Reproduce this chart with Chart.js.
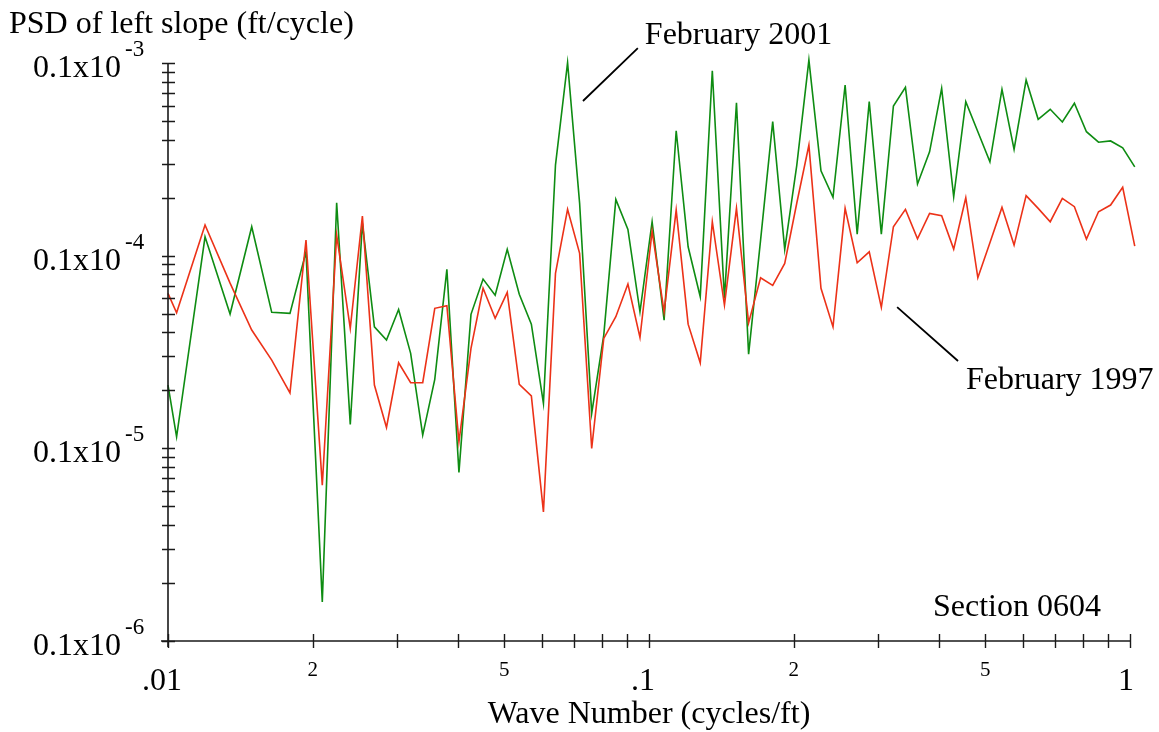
<!DOCTYPE html>
<html>
<head>
<meta charset="utf-8">
<script src="https://cdn.jsdelivr.net/npm/chart.js@4.4.1/dist/chart.umd.min.js"></script>
<style>
  html, body { margin: 0; padding: 0; background: #fff; }
  #wrap { width: 1159px; height: 732px; }
</style>
</head>
<body>
<div id="wrap"><canvas id="psdChart" width="1159" height="732"></canvas></div>
<script>
// wave number grid (cycles/ft), shared by both surveys
const waveNumber = [
  0.0100, 0.01042, 0.01194, 0.01346, 0.01493, 0.01643, 0.01793, 0.01936, 0.02093, 0.02242,
  0.02393, 0.02536, 0.02686, 0.02846, 0.03016, 0.03195, 0.03385, 0.03586, 0.03800, 0.04026,
  0.04265, 0.04519, 0.04788, 0.05073, 0.05374, 0.05694, 0.06033, 0.06391, 0.06772, 0.07174,
  0.07601, 0.08053, 0.08532, 0.09040, 0.09577, 0.1015, 0.1075, 0.1139, 0.1206, 0.1278,
  0.1354, 0.1435, 0.1520, 0.1611, 0.1706, 0.1808, 0.1915, 0.2029, 0.2150, 0.2278,
  0.2413, 0.2557, 0.2709, 0.2870, 0.3041, 0.3222, 0.3413, 0.3616, 0.3831, 0.4059,
  0.4300, 0.4556, 0.4827, 0.5114, 0.5418, 0.5741, 0.6082, 0.6443, 0.6826, 0.7233,
  0.7663, 0.8118, 0.8601, 0.9113, 0.9656, 1.023
];

// PSD of left slope, February 1997
const psd1997 = [
  6.37e-6, 5.05e-6, 1.442e-5, 7.20e-6, 4.11e-6, 2.87e-6, 1.94e-6, 1.205e-5, 6.44e-7, 1.279e-5,
  4.19e-6, 1.605e-5, 2.13e-6, 1.284e-6, 2.78e-6, 2.19e-6, 2.19e-6, 5.33e-6, 5.50e-6, 1.081e-6,
  3.30e-6, 6.77e-6, 4.73e-6, 6.45e-6, 2.15e-6, 1.87e-6, 4.68e-7, 8.09e-6, 1.739e-5, 1.028e-5,
  9.99e-7, 3.72e-6, 4.82e-6, 7.12e-6, 3.76e-6, 1.342e-5, 5.11e-6, 1.725e-5, 4.41e-6, 2.78e-6,
  1.500e-5, 5.54e-6, 1.760e-5, 4.48e-6, 7.68e-6, 7.01e-6, 9.12e-6, 1.876e-5, 3.75e-5, 6.77e-6,
  4.27e-6, 1.760e-5, 9.19e-6, 1.047e-5, 5.39e-6, 1.413e-5, 1.739e-5, 1.224e-5, 1.658e-5, 1.612e-5,
  1.082e-5, 1.998e-5, 7.68e-6, 1.167e-5, 1.781e-5, 1.135e-5, 2.05e-5, 1.760e-5, 1.500e-5, 1.984e-5,
  1.796e-5, 1.219e-5, 1.690e-5, 1.831e-5, 2.263e-5, 1.121e-5
];

// PSD of left slope, February 2001
const psd2001 = [
  2.13e-6, 1.147e-6, 1.253e-5, 4.98e-6, 1.413e-5, 5.08e-6, 5.02e-6, 1.047e-5, 1.596e-7, 1.883e-5,
  1.331e-6, 1.471e-5, 4.27e-6, 3.65e-6, 5.26e-6, 3.11e-6, 1.171e-6, 2.28e-6, 8.49e-6, 7.50e-7,
  4.96e-6, 7.56e-6, 6.24e-6, 1.078e-5, 6.30e-6, 4.41e-6, 1.711e-6, 2.953e-5, 1.004e-4, 1.870e-5,
  1.518e-6, 3.87e-6, 1.960e-5, 1.369e-5, 5.11e-6, 1.500e-5, 4.63e-6, 4.45e-5, 1.112e-5, 6.12e-6,
  9.12e-5, 6.00e-6, 6.22e-5, 3.08e-6, 1.205e-5, 4.96e-5, 1.078e-5, 2.95e-5, 1.036e-4, 2.76e-5,
  2.008e-5, 7.69e-5, 1.294e-5, 6.30e-5, 1.294e-5, 5.98e-5, 7.48e-5, 2.354e-5, 3.46e-5, 7.39e-5,
  2.022e-5, 6.30e-5, 4.40e-5, 3.07e-5, 7.30e-5, 3.56e-5, 8.16e-5, 5.10e-5, 5.75e-5, 4.94e-5,
  6.18e-5, 4.40e-5, 3.88e-5, 3.94e-5, 3.63e-5, 2.89e-5
];

// axis ticks
const xMajorTicks = [0.01, 0.1, 1];
const xMajorLabels = ['.01', '.1', '1'];
const xMinorLabelTicks = [0.02, 0.05, 0.2, 0.5];
const xMinorLabels = ['2', '5', '2', '5'];
const yMajorTicks = [1e-4, 1e-5, 1e-6, 1e-7];
const yTickExponents = ['-3', '-4', '-5', '-6'];

const FONT = '"Liberation Serif", "Times New Roman", serif';
const RED = '#ec3218';
const GREEN = '#0e8c12';

const toPoints = vals => waveNumber.map((x, i) => ({ x: x, y: vals[i] }));

// axes, ticks, labels and the callouts are drawn by hand over the plot
const axesPlugin = {
  id: 'axesPlugin',
  afterDraw(chart) {
    const ctx = chart.ctx;
    const xs = chart.scales.x, ys = chart.scales.y;
    const ca = chart.chartArea;
    ctx.save();
    ctx.strokeStyle = '#1a1a1a';
    ctx.fillStyle = '#000';
    ctx.lineWidth = 1.6;

    // axis lines
    ctx.beginPath();
    ctx.moveTo(ca.left, ca.top);
    ctx.lineTo(ca.left, ca.bottom + 6);
    ctx.moveTo(ca.left - 7, ca.bottom);
    ctx.lineTo(ca.right, ca.bottom);
    ctx.stroke();

    // y ticks: decades and 2..9 between them
    ctx.lineWidth = 1.4;
    ctx.beginPath();
    for (let d = -7; d <= -4; d++) {
      for (let m = 1; m <= 9; m++) {
        const v = m * Math.pow(10, d);
        if (v > 1.0001e-4) break;
        const py = Math.round(ys.getPixelForValue(v)) + 0.5;
        ctx.moveTo(ca.left - 6, py);
        ctx.lineTo(ca.left + 7, py);
      }
    }
    // x ticks
    for (let d = -2; d <= 0; d++) {
      for (let m = 1; m <= 9; m++) {
        const v = m * Math.pow(10, d);
        if (v > 1.0001) break;
        const px = Math.round(xs.getPixelForValue(v)) + 0.5;
        ctx.moveTo(px, ca.bottom - 7);
        ctx.lineTo(px, ca.bottom + 7);
      }
    }
    ctx.stroke();

    // y tick labels 0.1x10^n
    yMajorTicks.forEach((v, i) => {
      const py = ys.getPixelForValue(v);
      ctx.font = '32px ' + FONT;
      ctx.textAlign = 'right';
      ctx.textBaseline = 'alphabetic';
      ctx.fillText('0.1x10', 121, py + 14);
      ctx.font = '23px ' + FONT;
      ctx.textAlign = 'left';
      ctx.fillText(yTickExponents[i], 125, py - 7);
    });

    // x tick labels
    const majorShift = [14, 6, 4];
    ctx.font = '32px ' + FONT;
    ctx.textAlign = 'right';
    xMajorTicks.forEach((v, i) => {
      ctx.fillText(xMajorLabels[i], xs.getPixelForValue(v) + majorShift[i], ca.bottom + 49);
    });
    ctx.font = '21px ' + FONT;
    ctx.textAlign = 'center';
    xMinorLabelTicks.forEach((v, i) => {
      ctx.fillText(xMinorLabels[i], xs.getPixelForValue(v), ca.bottom + 35);
    });

    // axis titles
    ctx.font = '32px ' + FONT;
    ctx.textAlign = 'left';
    ctx.fillText('PSD of left slope (ft/cycle)', 9, 33);
    ctx.textAlign = 'center';
    ctx.fillText('Wave Number (cycles/ft)', (ca.left + ca.right) / 2, 723);

    // section tag
    ctx.textAlign = 'right';
    ctx.fillText('Section 0604', 1101, 616);

    // callouts with leader lines
    ctx.lineWidth = 1.8;
    ctx.strokeStyle = '#000';
    const a1 = [xs.getPixelForValue(0.0729), ys.getPixelForValue(6.35e-5)];
    const a2 = [xs.getPixelForValue(0.0948), ys.getPixelForValue(1.196e-4)];
    const b1 = [xs.getPixelForValue(0.328), ys.getPixelForValue(5.41e-6)];
    const b2 = [xs.getPixelForValue(0.439), ys.getPixelForValue(2.84e-6)];
    ctx.beginPath();
    ctx.moveTo(a1[0], a1[1]); ctx.lineTo(a2[0], a2[1]);
    ctx.moveTo(b1[0], b1[1]); ctx.lineTo(b2[0], b2[1]);
    ctx.stroke();
    ctx.textAlign = 'left';
    ctx.fillText('February 2001', a2[0] + 7, a2[1] - 4);
    ctx.fillText('February 1997', b2[0] + 8, b2[1] + 28);

    ctx.restore();
  }
};

const myChart = new Chart(document.getElementById('psdChart'), {
  type: 'line',
  data: {
    datasets: [
      {
        label: 'February 1997',
        data: toPoints(psd1997),
        borderColor: RED,
        borderWidth: 1.6,
        pointRadius: 0,
        tension: 0,
        clip: false
      },
      {
        label: 'February 2001',
        data: toPoints(psd2001),
        borderColor: GREEN,
        borderWidth: 1.6,
        pointRadius: 0,
        tension: 0,
        clip: false
      }
    ]
  },
  options: {
    responsive: false,
    animation: false,
    layout: { padding: { left: 168, right: 29, top: 63, bottom: 91 } },
    plugins: { legend: { display: false }, tooltip: { enabled: false } },
    scales: {
      x: { type: 'logarithmic', min: 0.01, max: 1, display: false },
      y: { type: 'logarithmic', min: 1e-7, max: 1e-4, display: false }
    }
  },
  plugins: [axesPlugin]
});
</script>
</body>
</html>
